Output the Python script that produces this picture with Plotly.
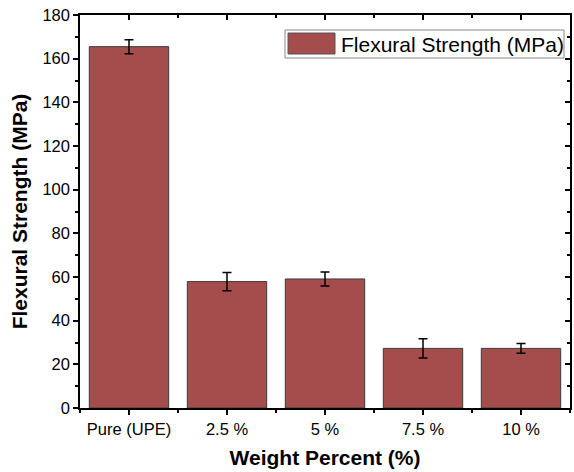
import plotly.graph_objects as go

# Flexural strength of UPE composites by filler weight percent
categories = ["Pure (UPE)", "2.5 %", "5 %", "7.5 %", "10 %"]
strength = [165.5, 57.9, 59.1, 27.3, 27.3]
strength_err = [3.2, 4.2, 3.2, 4.4, 2.2]
y_ticks = [0, 20, 40, 60, 80, 100, 120, 140, 160, 180]

bar_color = "#A54D4D"
font_family = "Liberation Sans, Arial, sans-serif"
positions = list(range(len(categories)))

fig = go.Figure()
fig.add_trace(go.Bar(
    x=positions, y=strength, width=0.81,
    marker=dict(color=bar_color, line=dict(color="#3a3a3a", width=1)),
    error_y=dict(type="data", array=strength_err, color="black", thickness=1.5, width=4.5),
    name="Flexural Strength (MPa)", showlegend=False,
))
# hidden trace so the mirrored top/right axes get drawn
fig.add_trace(go.Scatter(x=[0], y=[0], xaxis="x2", yaxis="y2", mode="markers",
                         marker=dict(opacity=0), showlegend=False, hoverinfo="skip"))

axis_font = dict(family=font_family, size=16.5, color="black")

fig.update_layout(
    width=574, height=472,
    margin=dict(l=80, r=4, t=15, b=64),
    paper_bgcolor="white", plot_bgcolor="white",
    xaxis=dict(
        range=[-0.5, 4.5], tickvals=positions, ticktext=categories,
        showline=True, linecolor="black", linewidth=1.5,
        ticks="outside", ticklen=5, tickwidth=1.5, tickcolor="black",
        minor=dict(tick0=0.5, dtick=1, ticks="outside", ticklen=3, tickwidth=1.5, tickcolor="black"),
        tickfont=axis_font, showgrid=False, zeroline=False,
        title=dict(text="<b>Weight Percent (%)</b>",
                   font=dict(family=font_family, size=21, color="black"), standoff=14),
    ),
    yaxis=dict(
        range=[0, 180], tickvals=y_ticks,
        showline=True, linecolor="black", linewidth=1.5,
        ticks="outside", ticklen=5, tickwidth=1.5, tickcolor="black",
        minor=dict(dtick=10, ticks="outside", ticklen=3, tickwidth=1.5, tickcolor="black"),
        tickfont=axis_font, showgrid=False, zeroline=False,
        title=dict(text="<b>Flexural Strength (MPa)</b>",
                   font=dict(family=font_family, size=21, color="black"), standoff=9),
    ),
    xaxis2=dict(
        overlaying="x", side="top", range=[-0.5, 4.5], tickvals=positions,
        showticklabels=False, showline=True, linecolor="black", linewidth=1.5,
        ticks="inside", ticklen=5, tickwidth=1.5, tickcolor="black",
        minor=dict(tick0=0.5, dtick=1, ticks="inside", ticklen=3, tickwidth=1.5, tickcolor="black"),
        showgrid=False, zeroline=False,
    ),
    yaxis2=dict(
        overlaying="y", side="right", range=[0, 180], tickvals=y_ticks,
        showticklabels=False, showline=True, linecolor="black", linewidth=1.5,
        ticks="inside", ticklen=5, tickwidth=1.5, tickcolor="black",
        minor=dict(dtick=10, ticks="inside", ticklen=3, tickwidth=1.5, tickcolor="black"),
        showgrid=False, zeroline=False,
    ),
)

# legend box with a large swatch
fig.add_shape(type="rect", xref="paper", yref="paper",
              x0=(285 - 80) / 490, x1=(564 - 80) / 490, y0=(408 - 58) / 393, y1=(408 - 30) / 393,
              line=dict(color="#888888", width=1), fillcolor="white")
fig.add_shape(type="rect", xref="paper", yref="paper",
              x0=(288 - 80) / 490, x1=(335 - 80) / 490, y0=(408 - 54) / 393, y1=(408 - 33) / 393,
              line=dict(color="#555555", width=1), fillcolor=bar_color)
fig.add_annotation(text="Flexural Strength (MPa)", xref="paper", yref="paper",
                   x=(339 - 80) / 490, y=(408 - 44) / 393, xanchor="left", yanchor="middle",
                   showarrow=False, font=dict(family=font_family, size=21, color="black"))

fig.write_html("out.html")
